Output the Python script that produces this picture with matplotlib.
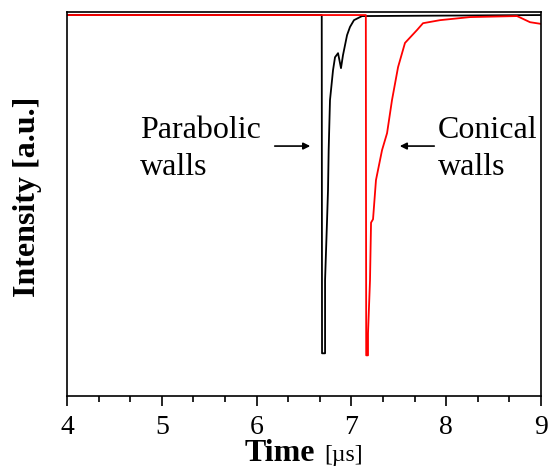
import numpy as np
import matplotlib
matplotlib.use("Agg")
import matplotlib.pyplot as plt
from matplotlib.ticker import MultipleLocator

plt.rcParams['font.family'] = ['Liberation Serif', 'DejaVu Serif']

# Parabolic walls (black) - time [us], intensity [a.u.]
t_parab = [4.0, 6.687, 6.69, 6.722, 6.722, 6.743, 6.753, 6.76, 6.774, 6.806,
           6.827, 6.859, 6.89, 6.911, 6.954, 6.985, 7.027, 7.112, 9.0]
i_parab = [1.0, 1.0, 0.006, 0.006, 0.221, 0.397, 0.485, 0.603, 0.75, 0.838,
           0.876, 0.888, 0.844, 0.882, 0.941, 0.965, 0.985, 0.997, 1.0]

# Conical walls (red)
t_conic = [4.0, 7.152, 7.156, 7.175, 7.175, 7.196, 7.207, 7.228, 7.259, 7.323,
           7.376, 7.428, 7.492, 7.565, 7.692, 7.755, 7.935, 8.25, 8.747, 8.884, 9.0]
i_conic = [1.0, 1.0, 0.0, 0.0, 0.065, 0.22, 0.39, 0.40, 0.515, 0.603,
           0.653, 0.75, 0.847, 0.918, 0.956, 0.976, 0.985, 0.994, 0.997, 0.979, 0.974]

fig = plt.figure(figsize=(5.51, 4.70), dpi=100)
ax = fig.add_axes([0.1216, 0.1585, 0.8603, 0.816])

ax.plot(t_parab, i_parab, color='black', lw=1.3)
ax.plot(t_conic, i_conic, color='red', lw=1.3)

ax.set_xlim(4, 9)
ax.set_ylim(-0.118, 1.009)
ax.set_xticks([4, 5, 6, 7, 8, 9])
ax.xaxis.set_minor_locator(MultipleLocator(1/3))
ax.set_yticks([])
ax.tick_params(axis='x', which='major', direction='out', length=7, width=1.2, labelsize=20, pad=7)
ax.tick_params(axis='x', which='minor', direction='out', length=4, width=1.2)
for s in ax.spines.values():
    s.set_linewidth(1.2)

ax.set_ylabel('Intensity [a.u.]', fontsize=23, fontweight='bold')
ax.yaxis.set_label_coords(-0.053, 0.518)

# x label: bold "Time" plus smaller plain unit
ax.text(0.523, -0.172, 'Time', transform=ax.transAxes, fontsize=23, fontweight='bold',
        ha='right', va='baseline')
ax.text(0.542, -0.172, '[µs]', transform=ax.transAxes, fontsize=17,
        ha='left', va='baseline')

# annotations
ax.text(4.77, 0.529, 'Parabolic\nwalls', fontsize=23, ha='left', va='baseline', linespacing=1.38)
ax.annotate('', xy=(6.595, 0.615), xytext=(6.162, 0.615),
            arrowprops=dict(arrowstyle='-|>', color='black', lw=1.2, mutation_scale=10))
ax.text(7.913, 0.529, 'Conical\nwalls', fontsize=23, ha='left', va='baseline', linespacing=1.38)
ax.annotate('', xy=(7.481, 0.615), xytext=(7.903, 0.615),
            arrowprops=dict(arrowstyle='-|>', color='black', lw=1.2, mutation_scale=10))

fig.savefig('out.png', dpi=100)
